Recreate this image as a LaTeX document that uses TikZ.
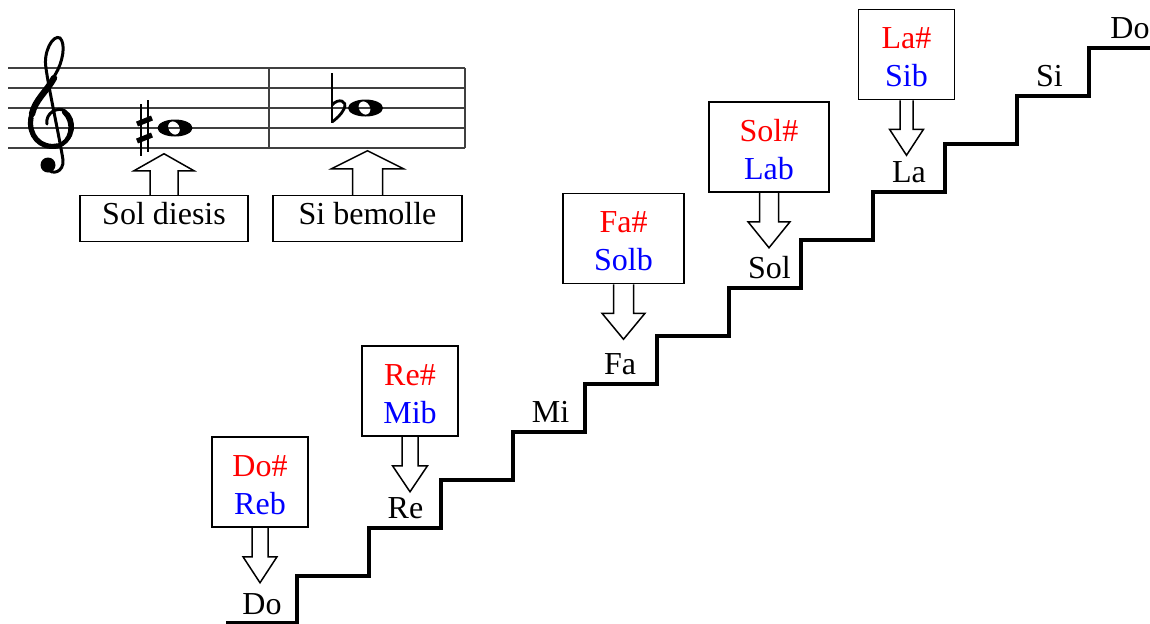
\documentclass[tikz,border=0pt]{standalone}
\usepackage{fontspec}
\setmainfont{Liberation Serif}

\tikzset{
  stair/.style={line width=2pt, line join=miter},
  staffline/.style={line width=0.6pt, black!75},
  notelabel/.style={anchor=base, inner sep=0pt, font=\fontsize{16}{19}\selectfont},
  alterbox/.style={draw, line width=0.75pt, align=center, minimum width=48pt,
    inner ysep=6.35pt, text height=32.3pt, text depth=0pt, font=\fontsize{16}{19}\selectfont},
  namebox/.style={draw, line width=0.75pt, inner ysep=3.5pt, text height=11pt,
    text depth=5pt, font=\fontsize{16}{19}\selectfont},
  blockline/.style={line width=0.75pt, line join=miter},
}

% hollow arrow below a box: anchor, shaft half width, head half width
\newcommand{\arrowdown}[3]{%
  \draw[blockline] (#1) ++(-#2,0) -- ++(0,29) -- ++(#2-#3,0) -- ++(#3,26)
    -- ++(#3,-26) -- ++(#2-#3,0) -- ++(0,-29);}
% hollow arrow above a box: anchor, shaft half, head half, shaft length, head length
\newcommand{\arrowup}[5]{%
  \draw[blockline] (#1) ++(-#2,0) -- ++(0,-#4) -- ++(#2-#3,0) -- ++(#3,-#5)
    -- ++(#3,#5) -- ++(#2-#3,0) -- ++(0,#4);}

\begin{document}
\begin{tikzpicture}[x=0.5pt, y=-0.5pt]
  \useasboundingbox (0,0) rectangle (1150,623);
  \clip (0,0) rectangle (1150,623);

  % staff
  \draw[staffline] (8,68) -- (465,68);
  \draw[staffline] (8,88) -- (465,88);
  \draw[staffline] (8,108) -- (465,108);
  \draw[staffline] (8,128) -- (465,128);
  \draw[staffline] (8,148) -- (465,148);
  \draw[staffline] (269,68) -- (269,148);
  \draw[staffline] (465,68) -- (465,148);

  % treble clef
  \draw[line width=1.5pt, line cap=round]
    (47,124) .. controls (45,113) and (58,106) .. (65,111)
    .. controls (77,119) and (75,142) .. (57,146)
    .. controls (40,149) and (27,135) .. (30,118)
    .. controls (32,102) and (48,88) .. (55,75)
    .. controls (63,62) and (66,44) .. (60,38)
    .. controls (53,34) and (43,52) .. (46,68)
    .. controls (48,85) and (60,140) .. (63,160)
    .. controls (64,172) and (52,176) .. (47,168);
  \draw[line width=3.2pt, line cap=round]
    (32,114) .. controls (35,100) and (47,91) .. (54,78);
  \draw[line width=2.6pt, line cap=round]
    (57,146) .. controls (40,149) and (28,135) .. (31,118);
  \draw[line width=2.2pt, line cap=round]
    (57,146) .. controls (72,143) and (75,122) .. (64,112);
  \fill (48,165) circle (7.5);

  % sharp and whole note
  \draw[line width=0.8pt] (141,104) -- (141,156);
  \draw[line width=0.8pt] (148,100) -- (148,152);
  \draw[line width=2.6pt] (137,124) -- (152,118);
  \draw[line width=2.6pt] (137,141) -- (152,135);
  \fill[even odd rule] (175,128) circle [x radius=17.5, y radius=8.5]
    (174,128) circle [x radius=5.5, y radius=7, rotate=30];

  % flat and whole note
  \draw[line width=0.6pt] (332,73) -- (332,123);
  \draw[line width=1.4pt] (332,105) .. controls (338,98) and (348,100) .. (344,109)
    .. controls (341,115) and (336,119) .. (332,122);
  \fill[even odd rule] (365.5,108) circle [x radius=17.5, y radius=8.5]
    (364.5,108) circle [x radius=5.5, y radius=7, rotate=30];

  \node[namebox, minimum width=84pt] (soldiesis) at (164,218.5) {Sol diesis};
  \node[namebox, minimum width=94.5pt] (sibemolle) at (367.5,218.5) {Si bemolle};
  \arrowup{soldiesis.north}{14}{30}{24}{17}
  \arrowup{sibemolle.north}{15}{36}{26}{18}

  % staircase
  \draw[stair] (226,623) -| (297,576) -| (369,528) -| (441,480) -| (513,432)
    -| (585,384) -| (657,336) -| (729,288) -| (801,240) -| (873,192)
    -| (945,144) -| (1017,96) -| (1089,48) -- (1160,48);

  \node[notelabel] (do) at (262,614) {Do};
  \node[notelabel] (re) at (405.5,518) {Re};
  \node[notelabel] (mi) at (550.5,422) {Mi};
  \node[notelabel] (fa) at (620,374) {Fa};
  \node[notelabel] (sol) at (769.5,278) {Sol};
  \node[notelabel] (la) at (909,182) {La};
  \node[notelabel] (si) at (1049.5,86) {Si};
  \node[notelabel, anchor=base west] (dohigh) at (1110,38) {Do'};

  \node[alterbox] (dosharp) at (260,482) {\textcolor{red}{Do\#}\\\textcolor{blue}{Reb}};
  \node[alterbox] (resharp) at (410,391) {\textcolor{red}{Re\#}\\\textcolor{blue}{Mib}};
  \node[alterbox, minimum width=60.5pt] (fasharp) at (623.5,238.5) {\textcolor{red}{Fa\#}\\\textcolor{blue}{Solb}};
  \node[alterbox, minimum width=60pt] (solsharp) at (769,147) {\textcolor{red}{Sol\#}\\\textcolor{blue}{Lab}};
  \node[alterbox] (lasharp) at (906.5,54.5) {\textcolor{red}{La\#}\\\textcolor{blue}{Sib}};

  \arrowdown{dosharp.south}{8}{17}
  \arrowdown{resharp.south}{8}{17.5}
  \arrowdown{fasharp.south}{10}{21.5}
  \arrowdown{solsharp.south}{9.5}{21}
  \arrowdown{lasharp.south}{6.5}{17}
\end{tikzpicture}
\end{document}
